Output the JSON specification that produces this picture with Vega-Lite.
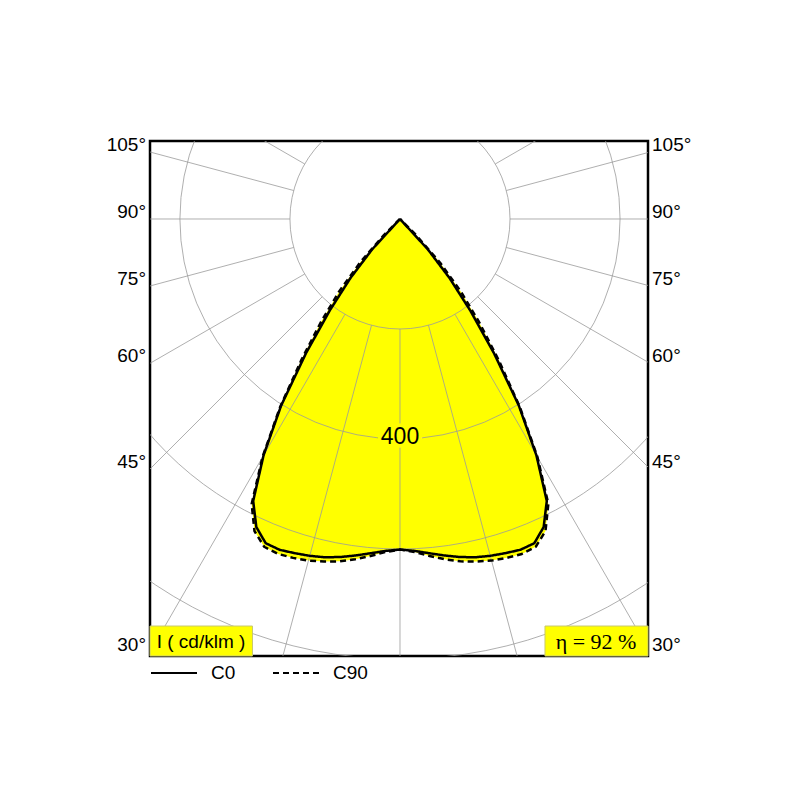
{
  "$schema": "https://vega.github.io/schema/vega-lite/v6.json",
  "autosize": "none",
  "width": 498,
  "height": 515,
  "padding": {"left": 150, "top": 141, "right": 152, "bottom": 144},
  "background": "white",
  "config": {
    "view": {"stroke": "black", "strokeWidth": 2.5},
    "font": "Liberation Sans",
    "text": {"font": "Liberation Sans"}
  },
  "datasets": {
    "curves": [
      {"c":"C0","a":-47.5,"I":0},{"c":"C0","a":-45,"I":0},{"c":"C0","a":-42.5,"I":75},{"c":"C0","a":-40,"I":140},{"c":"C0","a":-37.5,"I":210},{"c":"C0","a":-35,"I":298},{"c":"C0","a":-32.5,"I":402},{"c":"C0","a":-30,"I":496},{"c":"C0","a":-27.5,"I":578},{"c":"C0","a":-25,"I":618},{"c":"C0","a":-22.5,"I":638},{"c":"C0","a":-20,"I":640},{"c":"C0","a":-17.5,"I":637},{"c":"C0","a":-15,"I":634},{"c":"C0","a":-12.5,"I":630},{"c":"C0","a":-10,"I":624},{"c":"C0","a":-7.5,"I":617},{"c":"C0","a":-5,"I":610},{"c":"C0","a":-2.5,"I":604},{"c":"C0","a":0,"I":601},
      {"c":"C0","a":2.5,"I":604},{"c":"C0","a":5,"I":610},{"c":"C0","a":7.5,"I":617},{"c":"C0","a":10,"I":624},{"c":"C0","a":12.5,"I":630},{"c":"C0","a":15,"I":634},{"c":"C0","a":17.5,"I":637},{"c":"C0","a":20,"I":640},{"c":"C0","a":22.5,"I":638},{"c":"C0","a":25,"I":618},{"c":"C0","a":27.5,"I":578},{"c":"C0","a":30,"I":496},{"c":"C0","a":32.5,"I":402},{"c":"C0","a":35,"I":298},{"c":"C0","a":37.5,"I":210},{"c":"C0","a":40,"I":140},{"c":"C0","a":42.5,"I":75},{"c":"C0","a":45,"I":0},{"c":"C0","a":47.5,"I":0},
      {"c":"C90","a":-47.5,"I":0},{"c":"C90","a":-45,"I":42},{"c":"C90","a":-42.5,"I":108},{"c":"C90","a":-40,"I":172},{"c":"C90","a":-37.5,"I":236},{"c":"C90","a":-35,"I":312},{"c":"C90","a":-32.5,"I":406},{"c":"C90","a":-30,"I":500},{"c":"C90","a":-27.5,"I":584},{"c":"C90","a":-25,"I":626},{"c":"C90","a":-22.5,"I":645},{"c":"C90","a":-20,"I":648},{"c":"C90","a":-17.5,"I":646},{"c":"C90","a":-15,"I":643},{"c":"C90","a":-12.5,"I":638},{"c":"C90","a":-10,"I":632},{"c":"C90","a":-7.5,"I":624},{"c":"C90","a":-5,"I":615},{"c":"C90","a":-2.5,"I":606},{"c":"C90","a":0,"I":601},
      {"c":"C90","a":2.5,"I":606},{"c":"C90","a":5,"I":615},{"c":"C90","a":7.5,"I":624},{"c":"C90","a":10,"I":632},{"c":"C90","a":12.5,"I":638},{"c":"C90","a":15,"I":643},{"c":"C90","a":17.5,"I":646},{"c":"C90","a":20,"I":648},{"c":"C90","a":22.5,"I":645},{"c":"C90","a":25,"I":626},{"c":"C90","a":27.5,"I":584},{"c":"C90","a":30,"I":500},{"c":"C90","a":32.5,"I":406},{"c":"C90","a":35,"I":312},{"c":"C90","a":37.5,"I":236},{"c":"C90","a":40,"I":172},{"c":"C90","a":42.5,"I":108},{"c":"C90","a":45,"I":42},{"c":"C90","a":47.5,"I":0}
    ],
    "rings": [{"r":200},{"r":400},{"r":600},{"r":800}],
    "spokes": [
      {"a":-165},{"a":-150},{"a":-135},{"a":-120},{"a":-105},{"a":-90},{"a":-75},{"a":-60},{"a":-45},{"a":-30},{"a":-15},{"a":0},
      {"a":15},{"a":30},{"a":45},{"a":60},{"a":75},{"a":90},{"a":105},{"a":120},{"a":135},{"a":150},{"a":165},{"a":180}
    ],
    "anglelabels": [
      {"t":"105°","a":105},{"t":"90°","a":90},{"t":"75°","a":75},{"t":"60°","a":60},{"t":"45°","a":45},{"t":"30°","a":30}
    ]
  },
  "layer": [
    {
      "data": {"name": "curves"},
      "transform": [
        {"calculate": "datum.I*sin(datum.a*PI/180)", "as": "x"},
        {"calculate": "-datum.I*cos(datum.a*PI/180)", "as": "y"}
      ],
      "mark": {"type": "line", "fill": "#ffff00", "strokeWidth": 0, "strokeOpacity": 0},
      "encoding": {
        "x": {"field": "x", "type": "quantitative", "scale": {"domain": [-454.5, 450.9], "nice": false, "zero": false}, "axis": null},
        "y": {"field": "y", "type": "quantitative", "scale": {"domain": [-794.5, 141.8], "nice": false, "zero": false}, "axis": null},
        "detail": {"field": "c"},
        "order": {"field": "a", "type": "quantitative"}
      }
    },
    {
      "data": {"name": "rings"},
      "mark": {"type": "arc", "filled": false, "stroke": "#9a9a9a", "strokeWidth": 0.8, "clip": true},
      "encoding": {
        "x": {"datum": 0, "type": "quantitative"},
        "y": {"datum": 0, "type": "quantitative"},
        "radius": {"field": "r", "type": "quantitative", "stack": null, "scale": {"type": "linear", "domain": [0, 800], "range": [0, 440], "zero": true, "nice": false}},
        "theta": {"value": 0},
        "theta2": {"value": 6.2832}
      }
    },
    {
      "data": {"name": "spokes"},
      "transform": [
        {"calculate": "200*sin(datum.a*PI/180)", "as": "x"},
        {"calculate": "-200*cos(datum.a*PI/180)", "as": "y"},
        {"calculate": "3000*sin(datum.a*PI/180)", "as": "x2"},
        {"calculate": "-3000*cos(datum.a*PI/180)", "as": "y2"}
      ],
      "mark": {"type": "rule", "stroke": "#9a9a9a", "strokeWidth": 0.8, "clip": true},
      "encoding": {
        "x": {"field": "x", "type": "quantitative"},
        "y": {"field": "y", "type": "quantitative"},
        "x2": {"field": "x2"},
        "y2": {"field": "y2"}
      }
    },
    {
      "data": {"values": [{"t": "400"}]},
      "mark": {"type": "text", "fontSize": 23, "fill": "#ffff00", "stroke": "#ffff00", "strokeWidth": 7, "baseline": "middle", "align": "center"},
      "encoding": {
        "x": {"datum": 0, "type": "quantitative"},
        "y": {"datum": -397, "type": "quantitative"},
        "text": {"field": "t"}
      }
    },
    {
      "data": {"values": [{"t": "400"}]},
      "mark": {"type": "text", "fontSize": 23, "fill": "black", "baseline": "middle", "align": "center"},
      "encoding": {
        "x": {"datum": 0, "type": "quantitative"},
        "y": {"datum": -397, "type": "quantitative"},
        "text": {"field": "t"}
      }
    },
    {
      "data": {"name": "curves"},
      "transform": [
        {"calculate": "datum.I*sin(datum.a*PI/180)", "as": "x"},
        {"calculate": "-datum.I*cos(datum.a*PI/180)", "as": "y"}
      ],
      "mark": {"type": "line", "stroke": "black", "strokeWidth": 2.5, "strokeJoin": "round"},
      "encoding": {
        "x": {"field": "x", "type": "quantitative"},
        "y": {"field": "y", "type": "quantitative"},
        "order": {"field": "a", "type": "quantitative"},
        "strokeDash": {
          "field": "c", "type": "nominal",
          "scale": {"domain": ["C0", "C90"], "range": [[1, 0], [6, 4]]},
          "legend": {
            "title": null, "orient": "none", "legendX": 0, "legendY": 508,
            "direction": "horizontal", "symbolType": "stroke", "symbolSize": 2116,
            "symbolStrokeWidth": 2, "symbolStrokeColor": "black",
            "labelFontSize": 19, "labelFont": "Liberation Sans", "labelColor": "black",
            "labelOffset": 13, "columnPadding": 33, "padding": 0
          }
        }
      }
    },
    {
      "data": {"name": "anglelabels"},
      "transform": [
        {"calculate": "-454.5*cos(datum.a*PI/180)/sin(datum.a*PI/180)", "as": "y"}
      ],
      "mark": {"type": "text", "fontSize": 19, "align": "right", "baseline": "middle", "dx": -4, "dy": -7, "fill": "black"},
      "encoding": {
        "x": {"datum": -454.5, "type": "quantitative"},
        "y": {"field": "y", "type": "quantitative"},
        "text": {"field": "t"}
      }
    },
    {
      "data": {"name": "anglelabels"},
      "transform": [
        {"calculate": "-454.5*cos(datum.a*PI/180)/sin(datum.a*PI/180)", "as": "y"}
      ],
      "mark": {"type": "text", "fontSize": 19, "align": "left", "baseline": "middle", "dx": 4, "dy": -7, "fill": "black"},
      "encoding": {
        "x": {"datum": 450.9, "type": "quantitative"},
        "y": {"field": "y", "type": "quantitative"},
        "text": {"field": "t"}
      }
    },
    {
      "data": {"values": [{"t": "I ( cd/klm )"}]},
      "mark": {"type": "rect", "fill": "#ffff00", "stroke": "#c8c870", "strokeWidth": 1},
      "encoding": {
        "x": {"datum": -454.5, "type": "quantitative"},
        "x2": {"datum": -268.2},
        "y": {"datum": -740, "type": "quantitative"},
        "y2": {"datum": -794.5}
      }
    },
    {
      "data": {"values": [{"t": "η = 92 %"}]},
      "mark": {"type": "rect", "fill": "#ffff00", "stroke": "#c8c870", "strokeWidth": 1},
      "encoding": {
        "x": {"datum": 263.6, "type": "quantitative"},
        "x2": {"datum": 450.9},
        "y": {"datum": -740, "type": "quantitative"},
        "y2": {"datum": -794.5}
      }
    },
    {
      "data": {"values": [{"t": "I ( cd/klm )"}]},
      "mark": {"type": "text", "fontSize": 19, "align": "center", "baseline": "middle", "fill": "black", "dy": 1},
      "encoding": {
        "x": {"datum": -361.8, "type": "quantitative"},
        "y": {"datum": -766.4, "type": "quantitative"},
        "text": {"field": "t"}
      }
    },
    {
      "data": {"values": [{"t": "η = 92 %"}]},
      "mark": {"type": "text", "fontSize": 22, "font": "Liberation Serif", "align": "center", "baseline": "middle", "fill": "black", "dy": 1},
      "encoding": {
        "x": {"datum": 356.4, "type": "quantitative"},
        "y": {"datum": -766.4, "type": "quantitative"},
        "text": {"field": "t"}
      }
    }
  ]
}
